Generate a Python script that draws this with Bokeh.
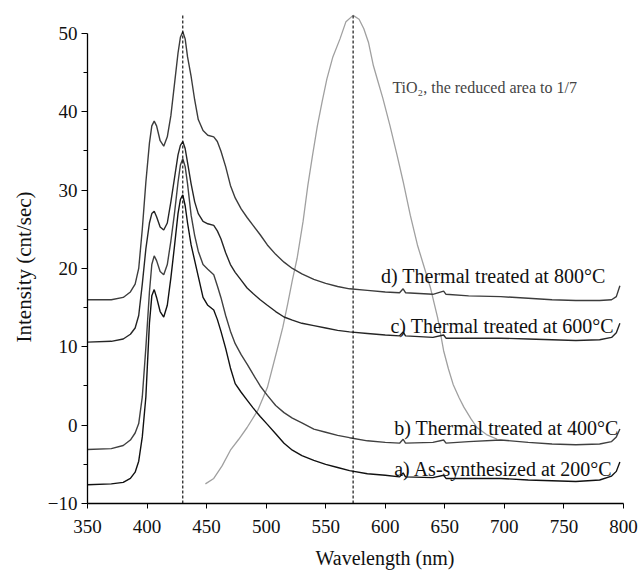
from bokeh.plotting import figure
from bokeh.models import Label, FixedTicker, Range1d, Title
from bokeh.embed import file_html
from bokeh.resources import INLINE

# ---- data ----
wavelength = [350, 370, 380, 386, 390, 393, 396, 399, 402, 404, 406, 408, 411, 414, 417,
              420, 423, 426, 428, 430, 432, 434, 437, 440, 443, 447, 451, 456, 459, 462,
              466, 470, 474, 479, 484, 489, 495, 501, 508, 515, 522, 530, 540, 550, 560,
              570, 585, 600, 612, 615, 617, 640, 649, 651, 670, 697, 720, 740, 760, 780,
              790, 794, 797]

int_d = [16.0, 16.0, 16.3, 17.0, 18.0, 20.0, 25.0, 31.0, 36.0, 38.2, 38.8, 38.2, 36.3, 35.6, 36.8,
         39.5, 43.5, 47.5, 49.5, 50.2, 49.3, 47.0, 44.5, 41.5, 39.0, 37.6, 37.0, 36.8, 36.2, 35.0,
         33.0, 30.6, 29.0, 27.6, 26.5, 25.5, 24.3, 23.0, 21.8, 20.8, 20.0, 19.3, 18.6, 18.1, 17.7,
         17.4, 17.2, 17.0, 16.9, 17.4, 16.9, 16.7, 17.1, 16.7, 16.5, 16.4, 16.2, 16.0, 15.9, 15.9,
         16.0, 16.4, 17.8]

int_c = [10.6, 10.7, 11.0, 11.6, 12.4, 14.0, 18.0, 22.5, 25.8, 27.0, 27.3, 26.6, 25.3, 24.9, 25.8,
         28.5, 31.5, 34.5, 35.7, 36.2, 35.3, 33.5, 30.8, 28.5, 27.0, 26.0, 25.7, 25.5, 24.8, 23.8,
         22.0, 20.5, 19.5, 18.5, 17.5, 16.8, 16.0, 15.3, 14.5, 13.8, 13.4, 13.0, 12.7, 12.4, 12.1,
         11.9, 11.7, 11.5, 11.4, 11.9, 11.4, 11.2, 11.5, 11.1, 11.1, 11.1, 11.0, 10.9, 10.8, 10.9,
         11.2, 11.8, 13.0]

int_b = [-3.1, -3.0, -2.6, -1.9, -1.0, 0.2, 3.6, 9.9, 17.0, 20.5, 21.6, 21.0, 19.6, 19.2, 20.5,
         23.5, 27.0, 31.0, 33.2, 34.0, 33.0, 30.8, 26.8, 24.2, 22.2, 20.5, 19.9, 19.2, 17.8, 16.3,
         14.0, 12.0, 10.4, 9.0, 7.8, 6.5, 5.0, 3.8, 2.5, 1.6, 0.9, 0.3, -0.5, -0.9, -1.3,
         -1.6, -2.0, -2.2, -2.3, -1.8, -2.3, -2.2, -1.9, -2.3, -2.1, -1.9, -2.2, -2.4, -2.5, -2.4,
         -2.1, -1.5, -0.5]

int_a = [-7.6, -7.5, -7.3, -6.8, -6.0, -4.6, -1.5, 3.6, 13.0, 16.5, 17.3, 16.3, 14.5, 13.8, 15.3,
         18.8, 22.8, 27.0, 28.8, 29.4, 28.0, 25.8, 23.0, 21.0, 19.0, 16.3, 15.3, 14.7, 13.5, 12.0,
         9.8, 7.3, 5.3, 4.2, 3.2, 2.2, 1.1, 0.1, -1.1, -2.3, -3.2, -3.9, -4.5, -5.0, -5.4,
         -5.8, -6.2, -6.4, -6.6, -6.1, -6.6, -6.7, -6.4, -6.8, -6.8, -6.8, -7.0, -7.1, -7.2, -7.0,
         -6.5, -5.9, -4.7]

wl_tio2 = [449, 456, 463, 470, 477, 484, 493, 501, 509, 514, 518, 522, 526, 531, 535,
           539, 543, 547, 551, 556, 562, 567, 573, 578, 582, 586, 590, 594, 598, 604,
           610, 615, 621, 627, 632, 638, 644, 649, 653, 657, 662, 666, 672, 677, 685, 694]
int_tio2 = [-7.5, -6.8, -5.2, -3.2, -1.8, -0.3, 1.9, 4.8, 9.5, 12.5, 15.4, 18.5, 21.3, 26.0, 30.6,
            34.5, 38.2, 41.3, 44.2, 47.0, 49.3, 51.5, 52.3, 51.8, 50.6, 48.8, 45.9, 43.8, 41.7, 38.2,
            34.4, 31.1, 26.8, 23.0, 20.5, 17.5, 13.7, 9.5, 7.2, 5.2, 3.5, 2.3, 0.8, -0.3, -1.2, -1.8]

peak_wl = [430, 573]
peak_top = 52.4

x_ticks = [350, 400, 450, 500, 550, 600, 650, 700, 750, 800]
y_ticks = [-10, 0, 10, 20, 30, 40, 50]
y_minor = [-5, 5, 15, 25, 35, 45]

series_labels = ["d) Thermal treated at 800\u00b0C",
                 "c) Thermal treated at 600\u00b0C",
                 "b) Thermal treated at 400\u00b0C",
                 "a) As-synthesized at 200\u00b0C"]
label_x = [785, 792, 796, 791]
label_y = [19.0, 12.6, -0.3, -5.6]
tio2_note = "TiO\u2082, the reduced area to 1/7"

SERIF = "'Liberation Serif', 'Times New Roman', serif"

p = figure(width=638, height=577, output_backend="svg", toolbar_location=None,
           x_range=Range1d(350, 805.9), y_range=Range1d(-10, 53.05))
p.min_border = 0
p.min_border_left = 87
p.min_border_right = 8
p.min_border_top = 9
p.min_border_bottom = 72
p.outline_line_color = None
p.grid.visible = False
p.background_fill_color = "white"
p.border_fill_color = "white"

# curves
p.line(wl_tio2, int_tio2, line_color="#a0a0a0", line_width=1.3)
p.line(wavelength, int_d, line_color="#3c3c3c", line_width=1.4)
p.line(wavelength, int_c, line_color="#262626", line_width=1.4)
p.line(wavelength, int_b, line_color="#404040", line_width=1.4)
p.line(wavelength, int_a, line_color="#111111", line_width=1.4)

# dashed markers at the peaks
p.segment(x0=peak_wl, y0=[-10] * len(peak_wl), x1=peak_wl, y1=[peak_top] * len(peak_wl),
          line_color="black", line_width=1.1, line_dash="3 2")

# axes
xa = p.xaxis[0]
xa.ticker = FixedTicker(ticks=x_ticks)
xa.bounds = (350, 800)
xa.major_tick_out = 5
xa.major_tick_in = 0
xa.minor_tick_out = 0
xa.major_label_standoff = 11
xa.major_label_text_font = SERIF
xa.major_label_text_font_size = "19px"
xa.major_label_text_color = "#111111"
xa.axis_line_width = 1.3
xa.axis_line_color = "black"

ya = p.yaxis[0]
ya.ticker = FixedTicker(ticks=y_ticks, minor_ticks=y_minor)
ya.bounds = (-10, 50)
ya.major_tick_out = 6
ya.major_tick_in = 0
ya.minor_tick_out = 4
ya.minor_tick_in = 0
ya.major_label_standoff = 4
ya.major_label_text_font = SERIF
ya.major_label_text_font_size = "19px"
ya.major_label_text_color = "#111111"
ya.axis_line_width = 1.3
ya.axis_line_color = "black"

# axis titles (side-panel titles so that they can be offset like the reference)
p.add_layout(Title(text="Wavelength (nm)", text_font=SERIF, text_font_size="20px",
                   text_font_style="normal", text_color="#111111",
                   align="left", vertical_align="bottom", offset=228, standoff=18), "below")
p.add_layout(Title(text="Intensity (cnt/sec)", text_font=SERIF, text_font_size="21px",
                   text_font_style="normal", text_color="#111111",
                   align="left", offset=161, standoff=18), "left")

# series annotations
for t, lx, ly in zip(series_labels, label_x, label_y):
    p.add_layout(Label(x=lx, y=ly, text=t, text_font=SERIF, text_font_size="20px",
                       text_align="right", text_baseline="middle", text_color="#111111"))

p.add_layout(Label(x=606, y=43.1, text=tio2_note, text_font=SERIF, text_font_size="16px",
                   text_align="left", text_baseline="middle", text_color="#444444"))

open("out.html", "w").write(file_html(p, INLINE))
